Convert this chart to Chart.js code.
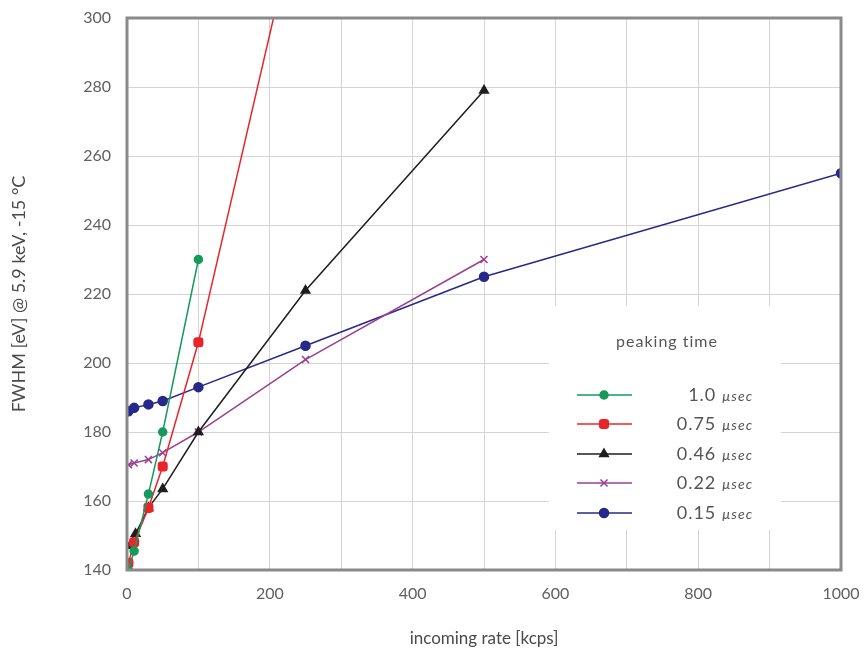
<!DOCTYPE html>
<html>
<head>
<meta charset="utf-8">
<script src="https://cdn.jsdelivr.net/npm/chart.js@4/dist/chart.umd.min.js"></script>
<style>
  html, body { margin: 0; padding: 0; background: #fff; }
  #wrap { width: 868px; height: 653px; }
</style>
</head>
<body>
<div id="wrap"><canvas id="fwhmChart"></canvas></div>
<script>
// incoming rate [kcps] and FWHM [eV] for each peaking time
const rate10 = [2, 10, 30, 50, 100];
const fwhm10 = [140, 145.5, 162, 180, 230];

const rate075 = [2, 10, 30, 50, 100, 250];
const fwhm075 = [142, 148, 158, 170, 206, 340];

const rate046 = [0, 12, 30, 50, 100, 250, 500];
const fwhm046 = [147, 150.5, 158, 163.5, 180, 221, 279];

const rate022 = [2, 10, 30, 50, 100, 250, 500];
const fwhm022 = [170.5, 171, 172, 174, 180, 201, 230];

const rate015 = [2, 10, 30, 50, 100, 250, 500, 1000];
const fwhm015 = [186, 187, 188, 189, 193, 205, 225, 255];

const peakingLabels = ['1.0', '0.75', '0.46', '0.22', '0.15'];
const xTicks = [0, 200, 400, 600, 800, 1000];
const yTicks = [140, 160, 180, 200, 220, 240, 260, 280, 300];

const FONT = 'Lato, "DejaVu Sans", sans-serif';

function pts(xs, ys) {
  return xs.map((x, i) => ({ x: x, y: ys[i] }));
}

const series = [
  { xs: rate10, ys: fwhm10, color: '#169a5c', style: 'circle', r: 4 },
  { xs: rate075, ys: fwhm075, color: '#e8252b', style: 'rectRounded', r: 5 },
  { xs: rate046, ys: fwhm046, color: '#1e1e1e', style: 'triangle', r: 5 },
  { xs: rate022, ys: fwhm022, color: '#9a3f93', style: 'crossRot', r: 5 },
  { xs: rate015, ys: fwhm015, color: '#26288a', style: 'circle', r: 4.5 }
];

// grey frame around the plot area
const framePlugin = {
  id: 'frame',
  afterDatasetsDraw(chart) {
    const { ctx, chartArea: a } = chart;
    ctx.save();
    ctx.strokeStyle = '#8a8a8a';
    ctx.lineWidth = 3;
    ctx.strokeRect(a.left, a.top, a.right - a.left, a.bottom - a.top);
    ctx.restore();
  }
};

// boxed legend inside the plot, lower right
const peakLegend = {
  id: 'peakLegend',
  afterDraw(chart) {
    const ctx = chart.ctx;
    ctx.save();
    ctx.fillStyle = '#fff';
    ctx.fillRect(549, 306, 232, 224);
    ctx.fillStyle = '#555';
    ctx.font = '16px ' + FONT;
    ctx.letterSpacing = '1px';
    ctx.textAlign = 'center';
    ctx.textBaseline = 'middle';
    ctx.fillText('peaking time', 667, 342);

    const rowY = [395, 424, 454, 483, 513];
    chart.data.datasets.forEach((ds, i) => {
      const y = rowY[i];
      ctx.strokeStyle = ds.borderColor;
      ctx.fillStyle = ds.borderColor;
      ctx.lineWidth = 1.5;
      ctx.beginPath();
      ctx.moveTo(577, y);
      ctx.lineTo(632, y);
      ctx.stroke();
      Chart.helpers.drawPoint(ctx, {
        pointStyle: ds.pointStyle,
        radius: ds.pointRadius,
        borderWidth: 1.5,
        rotation: 0
      }, 604, y);
      ctx.fill();

      ctx.fillStyle = '#555';
      ctx.textAlign = 'right';
      ctx.letterSpacing = '1px';
      ctx.font = 'italic 14px ' + FONT;
      const unit = '\u00b5sec';
      const uw = ctx.measureText(unit).width;
      ctx.fillText(unit, 753, y + 1);
      ctx.font = '18px ' + FONT;
      ctx.fillText(peakingLabels[i] + ' ', 753 - uw, y);
    });
    ctx.restore();
  }
};

new Chart(document.getElementById('fwhmChart'), {
  type: 'scatter',
  data: {
    datasets: series.map((s, i) => ({
      label: peakingLabels[i] + ' \u00b5sec',
      data: pts(s.xs, s.ys),
      showLine: true,
      borderColor: s.color,
      backgroundColor: s.color,
      borderWidth: 1.5,
      pointStyle: s.style,
      pointRadius: s.r,
      pointBorderWidth: 1.5,
      pointHoverRadius: s.r
    }))
  },
  options: {
    responsive: true,
    maintainAspectRatio: false,
    animation: false,
    layout: { padding: { top: 18, right: 27, left: 0, bottom: 0 } },
    plugins: {
      legend: { display: false },
      tooltip: { enabled: false }
    },
    scales: {
      x: {
        type: 'linear',
        min: 0,
        max: 1000,
        afterBuildTicks(scale) {
          scale.ticks = [];
          for (let v = 0; v <= 1000; v += 100) scale.ticks.push({ value: v });
        },
        afterFit(scale) {
          scale.height = 83;
          scale.paddingLeft = 0;
          scale.paddingRight = 0;
        },
        grid: { color: '#d4d4d4', lineWidth: 1, drawTicks: false },
        border: { display: false },
        ticks: {
          padding: 14,
          color: '#606060',
          font: { family: FONT, size: 16 },
          maxRotation: 0,
          callback: v => xTicks.includes(v) ? String(v) : ''
        },
        title: {
          display: true,
          text: 'incoming rate [kcps]',
          color: '#4a4a4a',
          font: { family: FONT, size: 17 },
          padding: { top: 20 }
        }
      },
      y: {
        type: 'linear',
        min: 140,
        max: 300,
        afterBuildTicks(scale) {
          scale.ticks = yTicks.map(v => ({ value: v }));
        },
        afterFit(scale) {
          scale.width = 127;
          scale.paddingTop = 0;
          scale.paddingBottom = 0;
        },
        grid: { color: '#d4d4d4', lineWidth: 1, drawTicks: false },
        border: { display: false },
        ticks: {
          padding: 16,
          color: '#606060',
          font: { family: FONT, size: 16 }
        },
        title: {
          display: true,
          text: 'FWHM [eV] @ 5.9 keV, -15 \u00b0C',
          color: '#4a4a4a',
          font: { family: FONT, size: 18 },
          padding: { bottom: 4, top: 8 }
        }
      }
    }
  },
  plugins: [framePlugin, peakLegend]
});
</script>
</body>
</html>
